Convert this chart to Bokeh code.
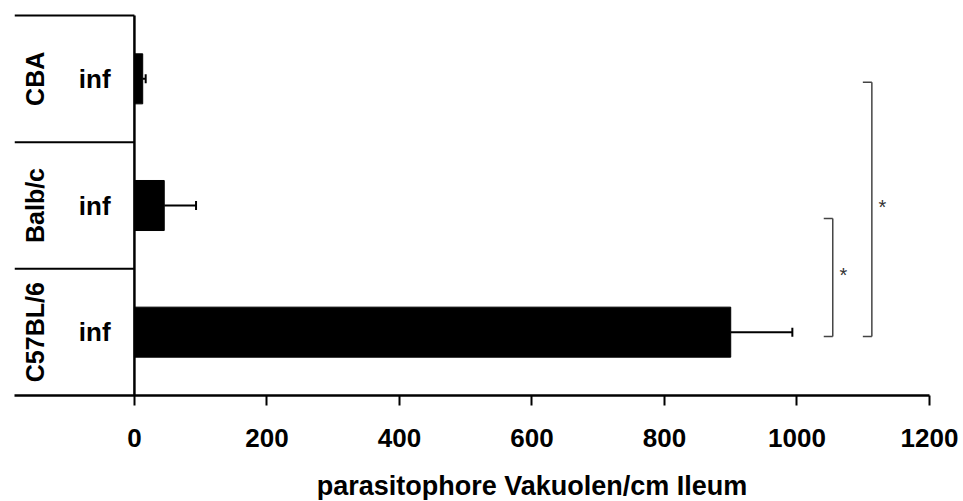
from bokeh.plotting import figure
from bokeh.layouts import column
from bokeh.models import Range1d, FixedTicker, ColumnDataSource, Whisker, TeeHead
from bokeh.core.properties import value
from bokeh.embed import file_html
from bokeh.resources import INLINE

# ---- data ----
strains = ["CBA", "Balb/c", "C57BL/6"]
group_label = ["inf", "inf", "inf"]
means = [12.5, 45, 900]
errors = [4.5, 48, 93]
x_ticks = [0, 200, 400, 600, 800, 1000, 1200]
x_title = "parasitophore Vakuolen/cm Ileum"
sig_x = [1054, 1113]
sig_lo = [0.466, 0.466]
sig_hi = [1.397, 2.473]
sig_text = ["*", "*"]

# ---- layout / style ----
FONT = "Liberation Sans"
X0 = -181
XMAX = 1200
n = len(strains)
ycen = [n - i - 0.5 for i in range(n)]
BAR_H = 0.395

p = figure(width=959, height=460,
           x_range=Range1d(X0, XMAX), y_range=Range1d(0, 3.0316),
           output_backend="svg", toolbar_location=None, y_axis_location=None,
           min_border_left=14, min_border_right=30, min_border_top=11, min_border_bottom=65)
p.outline_line_color = None
p.xgrid.visible = False
p.ygrid.visible = False
p.background_fill_color = "white"
p.border_fill_color = "white"

ax = p.xaxis[0]
ax.ticker = FixedTicker(ticks=x_ticks, minor_ticks=[])
ax.axis_line_width = 2.5
ax.axis_line_color = "black"
ax.major_tick_line_width = 2
ax.major_tick_out = 10
ax.major_tick_in = 0
ax.minor_tick_out = 0
ax.minor_tick_in = 0
ax.major_label_text_font = FONT
ax.major_label_text_font_style = "bold"
ax.major_label_text_font_size = "26px"
ax.major_label_text_color = "black"
ax.major_label_standoff = 23

# bars
src = ColumnDataSource(dict(y=ycen, mean=means,
                            upper=[m + e for m, e in zip(means, errors)],
                            strain=strains, grp=group_label))
p.hbar(y="y", left=0, right="mean", height=BAR_H, source=src,
       fill_color="black", line_color="black")
p.add_layout(Whisker(source=src, base="y", lower="mean", upper="upper",
                     dimension="width", line_width=2, line_color="black",
                     lower_head=None,
                     upper_head=TeeHead(size=9, line_width=2, line_color="black")))

# left category box
p.segment(x0=[0], y0=[0], x1=[0], y1=[n], line_color="black", line_width=2.5)
p.segment(x0=[X0] * n, y0=[i + 1 for i in range(n)], x1=[0] * n,
          y1=[i + 1 for i in range(n)], line_color="black", line_width=2)

p.text(x=[-150] * n, y=ycen, text=strains, angle=1.5708,
       text_font=value(FONT), text_font_style="bold", text_font_size="25px",
       text_align="center", text_baseline="middle", text_color="black")
p.text(x=[-60] * n, y=ycen, text=group_label,
       text_font=value(FONT), text_font_style="bold", text_font_size="26px",
       text_align="center", text_baseline="middle", text_color="black")

# significance brackets
TICK = 13.6
for sx, lo, hi, st in zip(sig_x, sig_lo, sig_hi, sig_text):
    p.segment(x0=[sx, sx - TICK, sx - TICK], y0=[lo, lo, hi],
              x1=[sx, sx, sx], y1=[hi, lo, hi],
              line_color="#444444", line_width=1.5)
    p.text(x=[sx + 16], y=[(lo + hi) / 2 + 0.02], text=[st],
           text_font=value(FONT), text_font_size="20px",
           text_align="center", text_baseline="middle", text_color="#333333")

# x-axis title strip, centred on the 0..1200 data span
t = figure(width=959, height=40, x_range=p.x_range, y_range=Range1d(0, 1),
           output_backend="svg", toolbar_location=None,
           x_axis_location=None, y_axis_location=None,
           min_border_left=14, min_border_right=30, min_border_top=0, min_border_bottom=0)
t.outline_line_color = None
t.grid.visible = False
t.background_fill_color = "white"
t.border_fill_color = "white"
t.text(x=[(0 + XMAX) / 2], y=[0.37], text=[x_title],
       text_font=value(FONT), text_font_style="bold", text_font_size="27px",
       text_align="center", text_baseline="alphabetic", text_color="black")

layout = column(p, t, spacing=0)
open("out.html", "w").write(file_html(layout, INLINE))
